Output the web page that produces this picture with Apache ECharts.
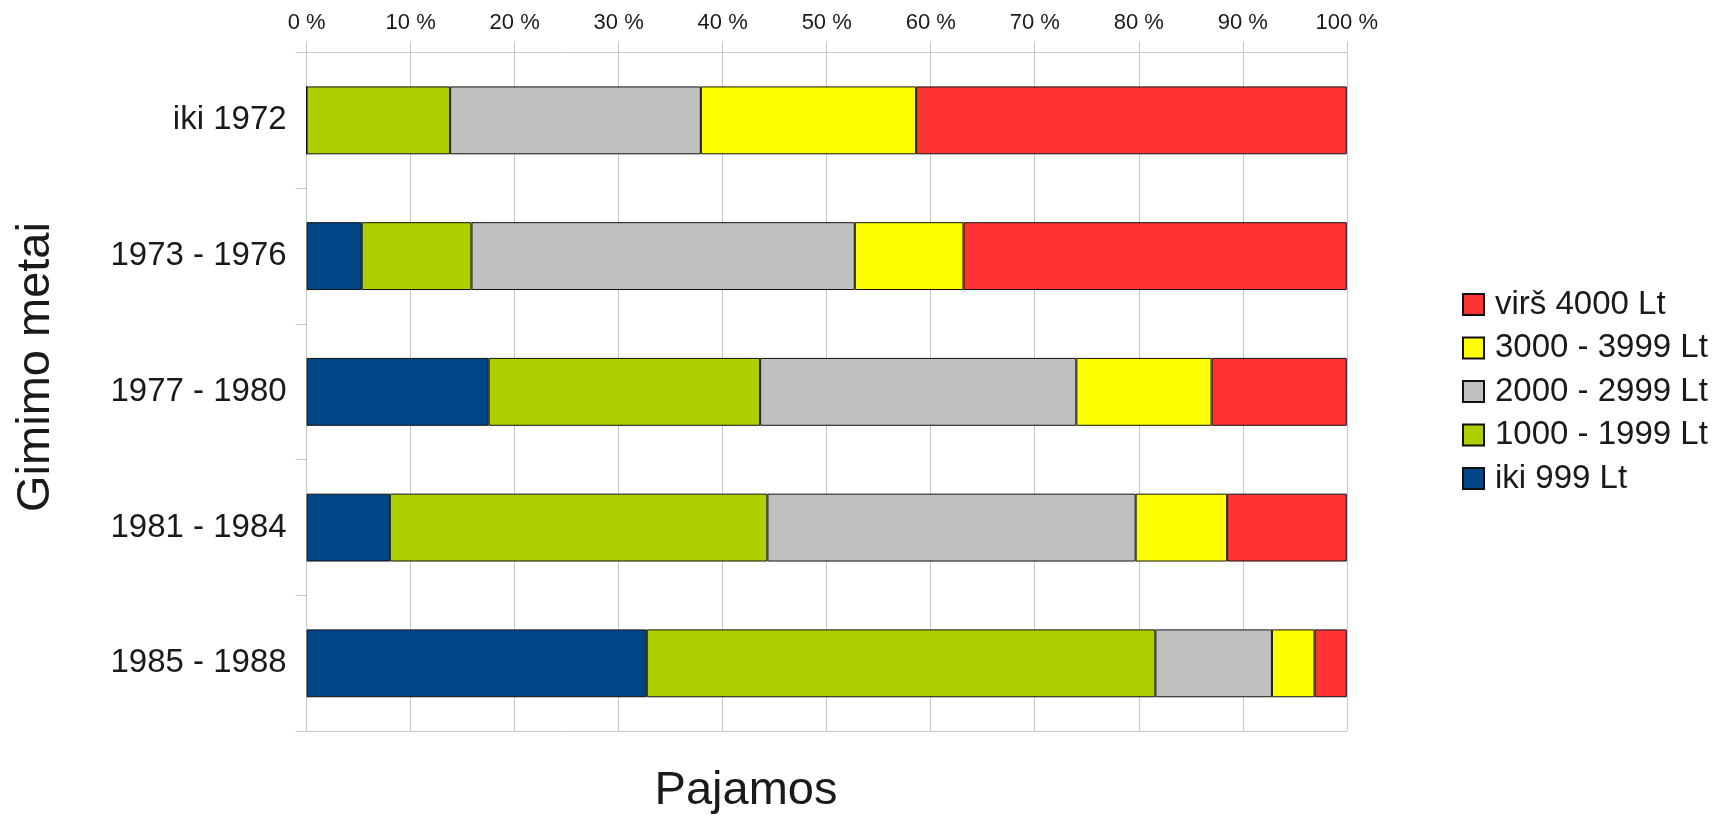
<!DOCTYPE html>
<html>
<head>
<meta charset="utf-8">
<script src="https://cdn.jsdelivr.net/npm/echarts@6/dist/echarts.min.js"></script>
<style>
html,body{margin:0;padding:0;background:#fff;}
#chart{width:1727px;height:818px;}
</style>
</head>
<body>
<div id="chart"></div>
<script>
var categories = ['iki 1972', '1973 - 1976', '1977 - 1980', '1981 - 1984', '1985 - 1988'];
var seriesNames = ['iki 999 Lt', '1000 - 1999 Lt', '2000 - 2999 Lt', '3000 - 3999 Lt', 'virš 4000 Lt'];
var iki999 = [0, 5.3, 17.5, 8.0, 32.7];
var r1000 = [13.8, 10.55, 26.1, 36.3, 48.9];
var r2000 = [24.1, 36.85, 30.4, 35.4, 11.2];
var r3000 = [20.7, 10.45, 13.0, 8.8, 4.1];
var virs4000 = [41.4, 36.85, 13.0, 11.5, 3.1];
var xTicks = [0, 10, 20, 30, 40, 50, 60, 70, 80, 90, 100];

var colors = ['#004586', '#aecf00', '#c0c0c0', '#ffff00', '#ff3333'];
var values = [iki999, r1000, r2000, r3000, virs4000];
var FONT = "'Liberation Sans', Arial, sans-serif";
var TXT = '#1a1a1a';
var GRIDC = '#c8c8c8';

var chart = echarts.init(document.getElementById('chart'), null, {renderer: 'canvas'});

var series = seriesNames.map(function (n, i) {
  return {
    name: n,
    type: 'bar',
    stack: 'total',
    xAxisIndex: 0,
    yAxisIndex: 0,
    barWidth: '50%',
    data: values[i],
    itemStyle: {color: colors[i], borderColor: '#111111', borderWidth: 1},
    emphasis: {disabled: true}
  };
});

chart.setOption({
  animation: false,
  backgroundColor: '#ffffff',
  textStyle: {fontFamily: FONT},
  grid: {left: 306.6, right: 380.2, top: 52.5, bottom: 86.8, containLabel: false},
  legend: {
    orient: 'vertical',
    left: 1457,
    top: 283,
    itemWidth: 21,
    itemHeight: 21,
    itemGap: 10.5,
    icon: 'rect',
    data: seriesNames.slice().reverse(),
    textStyle: {fontSize: 33, lineHeight: 33, color: TXT, fontFamily: FONT, padding: [0, 0, 0, 6]}
  },
  xAxis: [{
    type: 'value',
    position: 'top',
    min: xTicks[0],
    max: xTicks[xTicks.length - 1],
    interval: xTicks[1] - xTicks[0],
    axisLine: {show: true, lineStyle: {color: GRIDC, width: 1}},
    axisTick: {show: true, inside: false, length: 11, lineStyle: {color: GRIDC}},
    splitLine: {show: true, lineStyle: {color: GRIDC, width: 1}},
    axisLabel: {formatter: '{value} %', fontSize: 22, color: TXT, margin: 19, fontFamily: FONT}
  }, {
    type: 'value',
    position: 'bottom',
    min: 0,
    max: 100,
    axisLine: {show: true, lineStyle: {color: GRIDC, width: 1}},
    axisTick: {show: false},
    splitLine: {show: false},
    axisLabel: {show: false}
  }],
  yAxis: {
    type: 'category',
    inverse: true,
    data: categories,
    boundaryGap: true,
    axisLine: {show: true, lineStyle: {color: GRIDC, width: 1}},
    axisTick: {show: true, inside: false, length: 11, lineStyle: {color: GRIDC}},
    splitLine: {show: false},
    axisLabel: {fontSize: 33, color: TXT, margin: 20, fontFamily: FONT}
  },
  graphic: [{
    type: 'text',
    x: 746,
    y: 791,
    style: {text: 'Pajamos', fontSize: 47, fontFamily: FONT, fill: TXT, textAlign: 'center', textVerticalAlign: 'middle'}
  }, {
    type: 'text',
    x: 36,
    y: 367,
    rotation: Math.PI / 2,
    style: {text: 'Gimimo metai', fontSize: 47, fontFamily: FONT, fill: TXT, textAlign: 'center', textVerticalAlign: 'middle'}
  }],
  series: series
});
</script>
</body>
</html>
